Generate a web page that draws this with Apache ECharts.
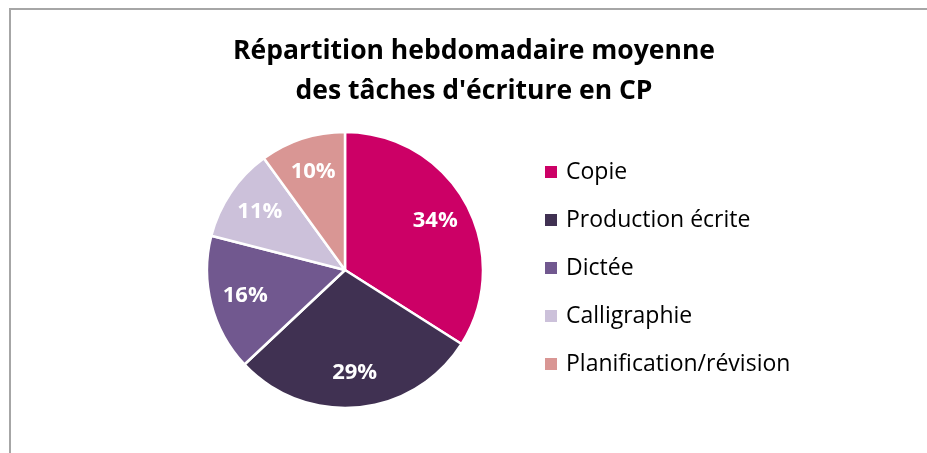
<!DOCTYPE html>
<html>
<head>
<meta charset="utf-8">
<script src="https://cdn.jsdelivr.net/npm/echarts@6/dist/echarts.min.js"></script>
<style>
html,body{margin:0;padding:0;background:#fff;}
#chart{width:927px;height:453px;}
</style>
</head>
<body>
<div id="chart"></div>
<script>
const titleText = "Répartition hebdomadaire moyenne\ndes tâches d'écriture en CP";
const categories = ["Copie", "Production écrite", "Dictée", "Calligraphie", "Planification/révision"];
const values = [34, 29, 16, 11, 10];
const colors = ["#CC0066", "#403152", "#71588F", "#CCC1DA", "#D99694"];

const FONT = "'Open Sans', 'Noto Sans', sans-serif";
const chart = echarts.init(document.getElementById('chart'), null, {renderer: 'canvas'});

const mainData = categories.map((n, i) => ({name: n, value: values[i], itemStyle: {color: colors[i]}}));
const labelData = categories.map((n, i) => ({name: n, value: values[i]}));

chart.setOption({
  animation: false,
  backgroundColor: '#fff',
  graphic: [{
    type: 'rect', silent: true, z: -10,
    shape: {x: 10, y: 9, width: 1000, height: 1000},
    style: {fill: '#fff', stroke: '#a6a6a6', lineWidth: 2}
  }],
  title: {
    text: titleText,
    left: 474, top: 31, textAlign: 'center', padding: 0,
    textStyle: {fontFamily: FONT, fontWeight: 'bold', fontSize: 26.5, lineHeight: 40, color: '#000'}
  },
  legend: {
    orient: 'vertical',
    left: 543, top: 160, padding: 0,
    icon: 'rect', itemWidth: 14, itemHeight: 14, itemGap: 24,
    data: categories,
    textStyle: {fontFamily: FONT, fontSize: 23, lineHeight: 24, color: '#000', padding: [0, 0, 0, 3]},
    selectedMode: false
  },
  series: [{
    type: 'pie',
    center: [345, 270], radius: [0, 138],
    startAngle: 90, clockwise: true,
    data: mainData,
    label: {show: false}, labelLine: {show: false},
    itemStyle: {borderColor: '#fff', borderWidth: 2.5},
    emphasis: {disabled: true}
  }, {
    type: 'pie', silent: true,
    center: [345, 270], radius: [0, 200],
    startAngle: 90, clockwise: true,
    avoidLabelOverlap: false,
    data: labelData,
    itemStyle: {color: 'rgba(0,0,0,0)', borderWidth: 0},
    label: {show: true, position: 'inside', formatter: '{c}%', color: '#fff',
            fontFamily: FONT, fontWeight: 'bold', fontSize: 22},
    labelLine: {show: false},
    emphasis: {disabled: true}
  }]
});
</script>
</body>
</html>
